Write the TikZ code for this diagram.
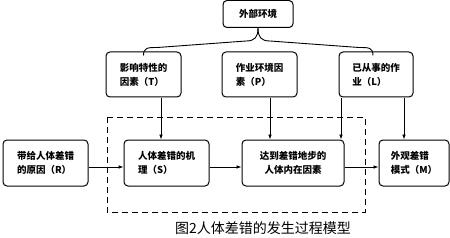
\documentclass[tikz,border=0pt]{standalone}
\usepackage{fontspec}
\setmainfont{Noto Sans CJK SC}
\usetikzlibrary{arrows.meta,calc}

\begin{document}
\begin{tikzpicture}[x=1pt, y=-1pt,
    box/.style={draw, rounded corners=4pt, line width=1pt, align=left,
        font=\fontsize{9.5}{14}\selectfont\bfseries, inner sep=0pt},
    arr/.style={line width=0.8pt, -{Latex[length=5pt,width=3.6pt]}}]
    \useasboundingbox (0,0) rectangle (450,238);

    % Top node and the three influence boxes
    \node[box, minimum width=70pt, minimum height=27pt, align=center] (Env) at (258,14) {外部环境};
    \node[box, minimum width=75pt, minimum height=45pt] (T) at (143.5,74.5) {影响特性的\\因素（T）};
    \node[box, minimum width=75pt, minimum height=45pt] (P) at (259.5,74.5) {作业环境因\\素（P）};
    \node[box, minimum width=74pt, minimum height=45pt] (L) at (376,74.5) {已从事的作\\业（L）};

    % Brace from the top node down to the row
    \coordinate (BL) at ($(T.north)+(0,4)$);
    \coordinate (BR) at ($(L.north)+(-3,4)$);
    \draw[line width=0.9pt] (BL) .. controls ($(BL)+(0,-8)$) and ($(BL)+(4,-8)$) .. ($(BL)+(14,-8)$)
        -- ($(Env.south)+(-12,13)$) .. controls ($(Env.south)+(-3,13)$) and (Env.south |- 0,37) .. (Env.south);
    \draw[line width=0.9pt] (BR) .. controls ($(BR)+(0,-8)$) and ($(BR)+(-4,-8)$) .. ($(BR)+(-14,-8)$)
        -- ($(Env.south)+(12,13)$) .. controls ($(Env.south)+(3,13)$) and (Env.south |- 0,37) .. (Env.south);

    % Process row
    \node[box, minimum width=85pt, minimum height=46pt] (R) at (45.5,163) {带给人体差错\\的原因（R）};
    \node[box, minimum width=85pt, minimum height=46pt] (S) at (166.5,163) {人体差错的机\\理（S）};
    \node[box, minimum width=102pt, minimum height=46pt, align=center] (I) at (293,163) {达到差错地步的\\人体内在因素};
    \node[box, minimum width=70pt, minimum height=46pt] (M) at (414,163) {外观差错\\模式（M）};

    % Dashed frame
    \draw[line width=0.9pt, dash pattern=on 6pt off 4pt] (107,117) rectangle (365,212);

    % Vertical arrows
    \draw[arr] ([xshift=17.5pt]T.south) -- ([xshift=17.5pt]T.south |- S.north);
    \draw[arr] ([xshift=10.5pt]P.south) -- ([xshift=10.5pt]P.south |- I.north);
    \draw[arr] ([xshift=-35pt]L.south) -- ([xshift=-35pt]L.south |- I.north);
    \draw[arr] ([xshift=28pt]L.south) -- ([xshift=28pt]L.south |- M.north);

    % Horizontal arrows
    \draw[arr] ([yshift=-4pt]R.east) -- ([yshift=-4pt]S.west);
    \draw[arr] ([yshift=-4pt]S.east) -- ([yshift=-4pt]I.west);
    \draw[arr] ([yshift=-4pt]I.east) -- ([yshift=-4pt]M.west);

    % Caption
    \node[font=\fontsize{14}{16}\selectfont] (Cap) at (263,228) {图2人体差错的发生过程模型};
\end{tikzpicture}
\end{document}
